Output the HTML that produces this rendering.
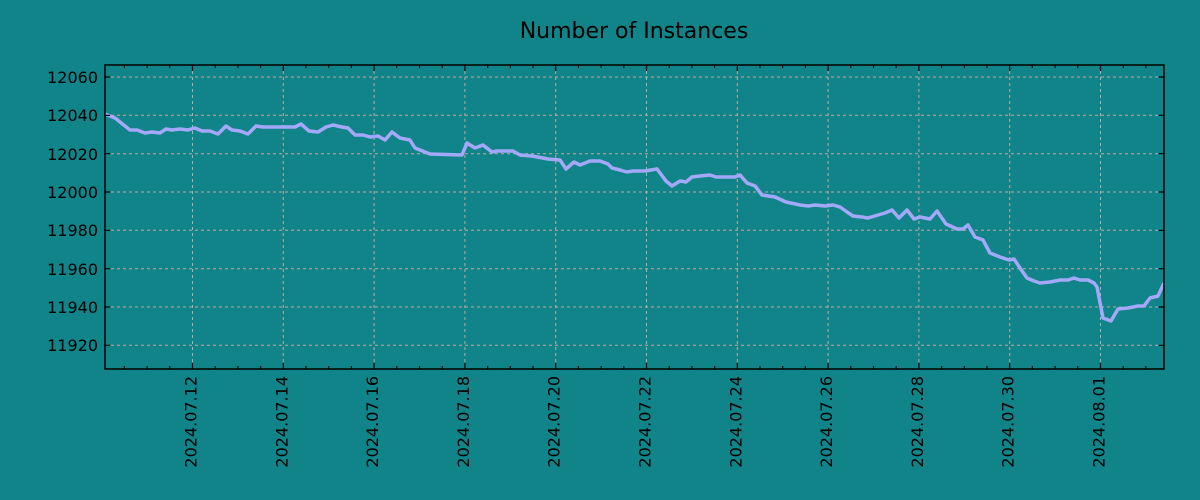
<!DOCTYPE html>
<html><head><meta charset="utf-8"><style>
html,body{margin:0;padding:0;background:#108488;}
svg{display:block;font-family:"DejaVu Sans","Liberation Sans",sans-serif;}
</style></head><body>
<svg width="1200" height="500" viewBox="0 0 1200 500">
<rect width="1200" height="500" fill="#108488"/>
<text x="634" y="38" font-size="22" text-anchor="middle" fill="#000">Number of Instances</text>
<g stroke="#b8aca4" stroke-width="1" stroke-dasharray="3,3">
<line x1="105" x2="1164" y1="77" y2="77"/><line x1="105" x2="1164" y1="115.3" y2="115.3"/>
<line x1="105" x2="1164" y1="153.7" y2="153.7"/><line x1="105" x2="1164" y1="192" y2="192"/>
<line x1="105" x2="1164" y1="230.3" y2="230.3"/><line x1="105" x2="1164" y1="268.7" y2="268.7"/>
<line x1="105" x2="1164" y1="307" y2="307"/><line x1="105" x2="1164" y1="345.3" y2="345.3"/>
<line y1="65" y2="369" x1="192.5" x2="192.5"/><line y1="65" y2="369" x1="283.3" x2="283.3"/>
<line y1="65" y2="369" x1="374.1" x2="374.1"/><line y1="65" y2="369" x1="464.9" x2="464.9"/>
<line y1="65" y2="369" x1="555.7" x2="555.7"/><line y1="65" y2="369" x1="646.5" x2="646.5"/>
<line y1="65" y2="369" x1="737.3" x2="737.3"/><line y1="65" y2="369" x1="828.1" x2="828.1"/>
<line y1="65" y2="369" x1="918.9" x2="918.9"/><line y1="65" y2="369" x1="1009.7" x2="1009.7"/>
<line y1="65" y2="369" x1="1100.5" x2="1100.5"/>
</g>
<polyline fill="none" stroke="#a4a8f8" stroke-width="3.5" stroke-linejoin="round" points="105,114 115,118 125,126 130,130 137,130 145,133 152,132 160,133 166,129 172,130 180,129 188,130 195,128 202,131 210,131 218,134 226,126 232,130 240,131 248,134 256,126 263,127 270,127 295,127 301,124 309,131 318,132 326,127 333,125 342,127 348,128 355,135 363,135 370,137 378,136 385,140 392,132 400,138 410,140 415,148 430,154 462,155 467,143 475,148 483,145 492,152 497,151 513,151 520,155 532,156 548,159 560,160 566,169 574,162 580,165 590,161 600,161 608,164 612,168 620,170 627,172 633,171 645,171 657,169 666,181 672,186 680,181 686,182 692,177 700,176 710,175 716,177 735,177 740,175 747,183 755,186 762,195 775,197 786,202 800,205 808,206 815,205 825,206 833,205 840,207 847,212 853,216 862,217 868,218 878,215 885,213 892,210 899,218 907,210 914,219 920,217 930,219 937,211 946,224 957,229 963,229 968,225 975,237 983,240 990,253 1000,257 1009,260 1014,259 1020,268 1027,278 1034,281 1040,283 1050,282 1060,280 1068,280 1074,278 1080,280 1088,280 1094,283 1097,287 1103,318 1111,321 1118,309 1128,308 1138,306 1144,306 1150,298 1158,296 1164,283"/>
<rect x="105" y="65" width="1059" height="304" fill="none" stroke="#000" stroke-width="1.5"/>
<g stroke="#000" stroke-width="1.2" id="ticks">
<path d="M105,77h5M105,115.3h5M105,153.7h5M105,192h5M105,230.3h5M105,268.7h5M105,307h5M105,345.3h5
M1164,77h-5M1164,115.3h-5M1164,153.7h-5M1164,192h-5M1164,230.3h-5M1164,268.7h-5M1164,307h-5M1164,345.3h-5"/>
</g>
<g id="xt" stroke="#000" stroke-width="1.2"></g>
<g font-size="16" fill="#000" text-anchor="end">
<text x="98" y="83">12060</text><text x="98" y="121">12040</text><text x="98" y="160">12020</text>
<text x="98" y="198">12000</text><text x="98" y="236">11980</text><text x="98" y="275">11960</text>
<text x="98" y="313">11940</text><text x="98" y="351">11920</text>
</g>
<g id="xl" font-size="16" fill="#000" text-anchor="end"></g>
</svg>
<script>
var ns="http://www.w3.org/2000/svg",xt=document.getElementById("xt"),xl=document.getElementById("xl");
var labels=["2024.07.12","2024.07.14","2024.07.16","2024.07.18","2024.07.20","2024.07.22","2024.07.24","2024.07.26","2024.07.28","2024.07.30","2024.08.01"];
for(var i=-3;i<=43;i++){var x=192.5+i*22.7;if(x<106||x>1163)continue;var L=(i%4==0)?6:3;
var p=document.createElementNS(ns,"path");p.setAttribute("d","M"+x+",369v-"+L+"M"+x+",65v"+L);xt.appendChild(p);}
labels.forEach(function(t,k){var x=192.5+k*90.8+4;var e=document.createElementNS(ns,"text");
e.setAttribute("transform","translate("+x+",376) rotate(-90)");e.textContent=t;xl.appendChild(e);});
</script>
</body></html>
